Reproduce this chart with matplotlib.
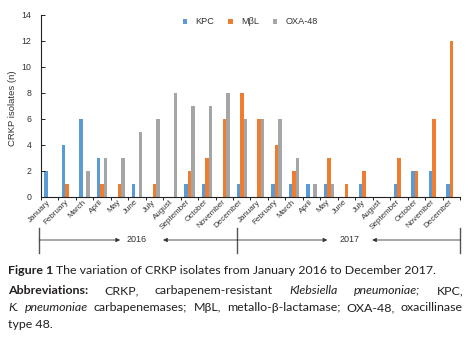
import numpy as np
import matplotlib.pyplot as plt
import matplotlib.transforms as mtransforms

months = ['January', 'February', 'March', 'April', 'May', 'June', 'July', 'August',
          'September', 'October', 'November', 'December']
labels = months + months
kpc = [2, 4, 6, 3, 0, 1, 0, 0, 1, 1, 0, 1,
       0, 1, 1, 1, 1, 0, 1, 0, 1, 2, 2, 1]
mbl = [0, 1, 0, 1, 1, 0, 1, 0, 2, 3, 6, 8,
       6, 4, 2, 0, 3, 1, 2, 0, 3, 2, 6, 12]
oxa = [0, 0, 2, 3, 3, 5, 6, 8, 7, 7, 8, 6,
       6, 6, 3, 1, 1, 0, 0, 0, 0, 0, 0, 0]
series_names = ['KPC', 'M\u03b2L', 'OXA-48']
colors = ['#5B9BD5', '#ED7D31', '#A5A5A5']
years = ['2016', '2017']

W, H = 471, 338
fig = plt.figure(figsize=(W / 100, H / 100), dpi=100)
ax = fig.add_axes([41 / W, 1 - 197 / H, (460 - 41) / W, (197 - 15) / H])

chart_font = ['Liberation Sans', 'DejaVu Sans']
txt = '#333333'

x = np.arange(len(labels))
bw = 0.2
for k, (vals, c, name) in enumerate(zip([kpc, mbl, oxa], colors, series_names)):
    ax.bar(x + (k - 1) * bw, vals, bw, color=c, label=name, edgecolor='none')

ax.set_xlim(-0.5, len(labels) - 0.5)
ax.set_ylim(0, 14)
ax.set_yticks(range(0, 15, 2))
ax.set_xticks(x)
ax.set_xticklabels(labels, rotation=45, ha='right', va='center', rotation_mode='anchor',
                   fontsize=5.8, family=chart_font, color=txt)
shift = mtransforms.ScaledTranslation(8 / 100, 0, fig.dpi_scale_trans)
for lab in ax.get_xticklabels():
    lab.set_transform(lab.get_transform() + shift)
ax.set_xticks(np.arange(-0.5, len(labels), 1), minor=True)
ax.tick_params(axis='x', which='major', length=0, pad=3)
ax.tick_params(axis='x', which='minor', length=2, width=0.6, direction='out')
ax.tick_params(axis='y', length=3, width=0.6, direction='in', labelsize=6.3,
               labelcolor=txt, pad=7)
for lab in ax.get_yticklabels():
    lab.set_family(chart_font)
for s in ['top', 'right']:
    ax.spines[s].set_visible(False)
for s in ['left', 'bottom']:
    ax.spines[s].set_linewidth(0.8)
    ax.spines[s].set_color('#222222')
ax.set_ylabel('CRKP isolates (n)', fontsize=6.8, family=chart_font, color=txt)
ax.yaxis.set_label_coords(-(41 - 17) / (460 - 41), 0.49)

ax.legend(loc='center left', bbox_to_anchor=(183 / W, 1 - 22 / H), bbox_transform=fig.transFigure,
          ncol=3, frameon=False, borderpad=0, borderaxespad=0,
          handlelength=0.45, handleheight=0.45, handletextpad=0.9,
          columnspacing=1.55, prop={'family': chart_font, 'size': 6.6}, labelcolor=txt)

# year brackets below the month labels
tr = mtransforms.blended_transform_factory(ax.transData, fig.transFigure)
y_mid = 1 - 240 / H
y_top, y_bot = 1 - 228 / H, 1 - 253 / H
for xv in [-0.6, 10.73, 23.5]:
    ax.plot([xv, xv], [y_top, y_bot], transform=tr, color='#555555', lw=1, clip_on=False)
arrow = dict(arrowstyle='-|>', lw=0.6, color='#333333', mutation_scale=6, shrinkA=0, shrinkB=0)
segments = [(-0.6, 4.03, 4.97, 10.73, 6.49), (10.73, 15.9, 17.15, 23.5, 18.47)]
for yr, (a0, a1, tx, b0, b1) in zip(years, segments):
    ax.annotate('', xy=(a1, y_mid), xytext=(a0, y_mid), xycoords=tr, textcoords=tr, arrowprops=arrow)
    ax.annotate('', xy=(b1, y_mid), xytext=(b0, y_mid), xycoords=tr, textcoords=tr, arrowprops=arrow)
    ax.text(tx, y_mid, yr, transform=tr, ha='center', va='center', fontsize=6.5,
            family=chart_font, color=txt)

# caption
cap_font = ['Lato', 'DejaVu Sans']
cap_col = '#231f20'
left, right = 8 / W, 463 / W
renderer = fig.canvas.get_renderer()


def width_of(s, size, weight='normal', style='normal'):
    t = fig.text(0, 0, s, fontsize=size, family=cap_font, weight=weight, style=style)
    w = t.get_window_extent(renderer).width / W
    t.remove()
    return w


# size the caption so its first line spans the same width as the original
line1_bold = 'Figure 1'
line1_rest = 'The variation of CRKP isolates from January 2016 to December 2017.'
w10 = width_of(line1_bold, 10, 'bold') + width_of(line1_rest, 10)
cap_size = 10 * (429 / W - 0.008) / w10
sp = width_of('x x', cap_size) - width_of('xx', cap_size)


def place_line(words, y, justify=True):
    objs = [fig.text(0, y, w, fontsize=cap_size, family=cap_font, weight=wt,
                     style=st, color=cap_col, va='baseline') for w, wt, st in words]
    widths = [t.get_window_extent(renderer).width / W for t in objs]
    if justify and len(objs) > 1:
        gap = (right - left - sum(widths)) / (len(objs) - 1)
    else:
        gap = sp
    xpos = left
    for t, wd in zip(objs, widths):
        t.set_x(xpos)
        xpos += wd + gap


N, B, I = 'normal', 'bold', 'italic'
line1 = [(line1_bold, B, N), (line1_rest, N, N)]
line2 = [('Abbreviations:', B, N), ('CRKP,', N, N), ('carbapenem-resistant', N, N),
         ('Klebsiella', N, I), ('pneumoniae;', N, I), ('KPC,', N, N)]
line3 = [('K.', N, I), ('pneumoniae', N, I)] + [(w, N, N) for w in
         'carbapenemases; M\u03b2L, metallo-\u03b2-lactamase; OXA-48, oxacillinase'.split()]
line4 = [('type 48.', N, N)]
place_line(line1, 1 - 274 / H, justify=False)
place_line(line2, 1 - 294 / H)
place_line(line3, 1 - 311 / H)
place_line(line4, 1 - 328 / H, justify=False)

fig.savefig('out.png', dpi=100)
